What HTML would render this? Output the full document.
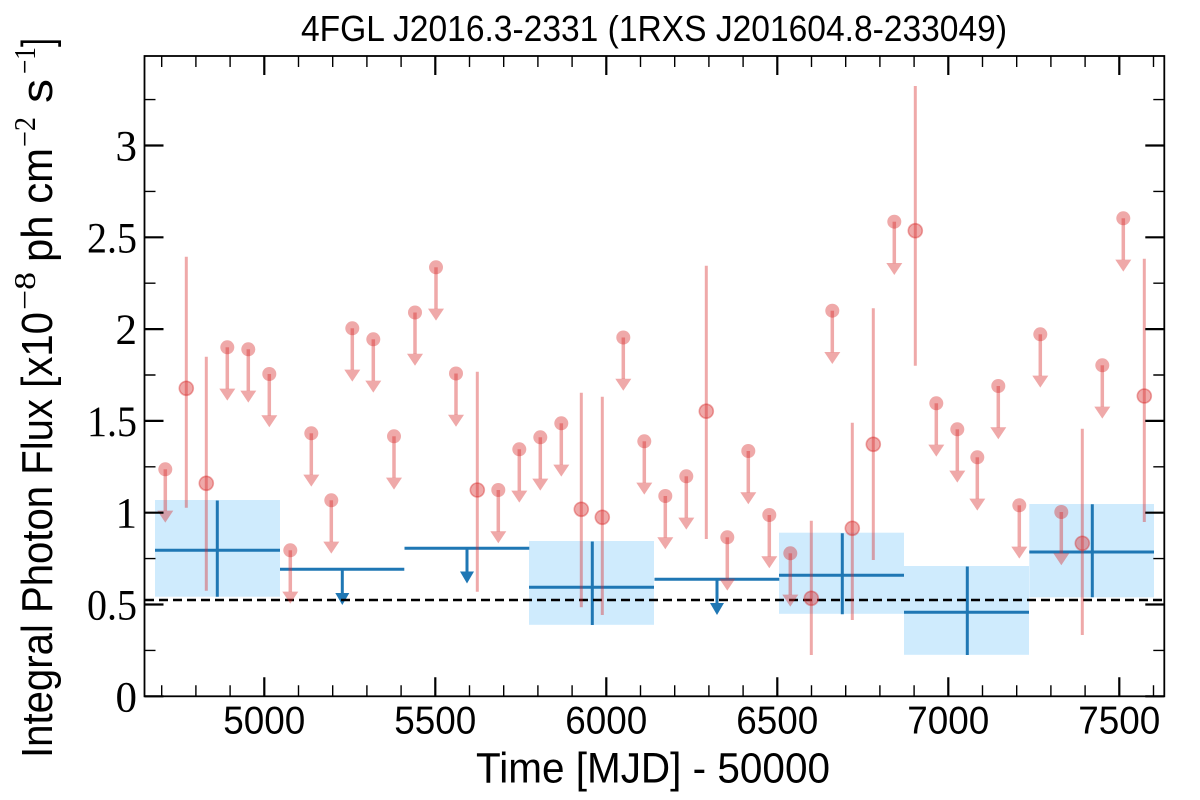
<!DOCTYPE html>
<html><head><meta charset="utf-8"><style>
html,body{margin:0;padding:0;background:#fff;}
svg{display:block;}
</style></head><body>
<svg xmlns="http://www.w3.org/2000/svg" width="1200" height="800" viewBox="0 0 1200 800">
<defs>
<g id="ul">
<circle r="7" fill="#d62728" fill-opacity="0.4"/>
<line x1="0" y1="0" x2="0" y2="41.5" stroke="#d62728" stroke-opacity="0.4" stroke-width="3.5"/>
<polygon points="-8,41.3 8,41.3 0,53.3" fill="#d62728" fill-opacity="0.4"/>
</g>
<g id="det">
<circle r="7" fill="#d62728" fill-opacity="0.4" stroke="#d62728" stroke-opacity="0.4" stroke-width="1.6"/>
</g>
</defs>
<rect width="1200" height="800" fill="#fff"/>

<!-- blue boxes -->
<g fill="rgb(207,235,253)">
<rect x="155" y="500" width="125" height="96.7"/>
<rect x="529" y="541" width="125" height="83.8"/>
<rect x="779" y="532.7" width="125" height="81.1"/>
<rect x="904" y="566" width="125" height="88.8"/>
<rect x="1029.3" y="504" width="124.7" height="93.3"/>
</g>

<!-- blue lines -->
<g stroke="#1f77b4" stroke-width="3" fill="none">
<line x1="155" y1="550.3" x2="280" y2="550.3"/>
<line x1="217.3" y1="500.5" x2="217.3" y2="596.7"/>
<line x1="280" y1="569.3" x2="404.3" y2="569.3"/>
<line x1="342.3" y1="569.3" x2="342.3" y2="594"/>
<line x1="404.5" y1="548.3" x2="529.3" y2="548.3"/>
<line x1="467" y1="548.3" x2="467" y2="572.5"/>
<line x1="529" y1="587.3" x2="654" y2="587.3"/>
<line x1="592.3" y1="541.5" x2="592.3" y2="625"/>
<line x1="654.5" y1="579.2" x2="779.3" y2="579.2"/>
<line x1="717" y1="579.2" x2="717" y2="604"/>
<line x1="779" y1="575.3" x2="904" y2="575.3"/>
<line x1="842.3" y1="533.3" x2="842.3" y2="614.3"/>
<line x1="904" y1="612.3" x2="1029" y2="612.3"/>
<line x1="967.3" y1="566.5" x2="967.3" y2="655"/>
<line x1="1029.3" y1="552" x2="1154" y2="552"/>
<line x1="1092.3" y1="504.3" x2="1092.3" y2="597.3"/>
</g>
<g fill="#1f77b4">
<polygon points="335.3,593 349.3,593 342.3,605"/>
<polygon points="460,571.5 474,571.5 467,583.5"/>
<polygon points="710,603 724,603 717,615"/>
</g>

<!-- dashed line -->
<line x1="145" y1="600" x2="1164" y2="600" stroke="#000" stroke-width="2.5" stroke-dasharray="9,5"/>

<!-- red detections error bars -->
<g stroke="#d62728" stroke-opacity="0.4" stroke-width="3">
<line x1="186.3" y1="256.7" x2="186.3" y2="507.7"/>
<line x1="206.3" y1="356.7" x2="206.3" y2="590.7"/>
<line x1="477.3" y1="371.7" x2="477.3" y2="591.7"/>
<line x1="581.3" y1="392.7" x2="581.3" y2="607.3"/>
<line x1="602.3" y1="396.7" x2="602.3" y2="615"/>
<line x1="706.3" y1="265.7" x2="706.3" y2="539"/>
<line x1="811.3" y1="520.7" x2="811.3" y2="655"/>
<line x1="852.3" y1="422.7" x2="852.3" y2="620"/>
<line x1="873.3" y1="308.3" x2="873.3" y2="560"/>
<line x1="915.3" y1="86" x2="915.3" y2="365.7"/>
<line x1="1082.3" y1="428.7" x2="1082.3" y2="635"/>
<line x1="1144.3" y1="258.7" x2="1144.3" y2="522"/>
</g>
<use href="#det" x="186.3" y="388.3"/>
<use href="#det" x="206.3" y="483.3"/>
<use href="#det" x="477.3" y="490"/>
<use href="#det" x="581.3" y="509.3"/>
<use href="#det" x="602.3" y="517.3"/>
<use href="#det" x="706.3" y="411.2"/>
<use href="#det" x="811.3" y="598.3"/>
<use href="#det" x="852.3" y="528.3"/>
<use href="#det" x="873.3" y="444.3"/>
<use href="#det" x="915.3" y="230.7"/>
<use href="#det" x="1082.3" y="543.3"/>
<use href="#det" x="1144.3" y="396"/>

<!-- red upper limits -->
<use href="#ul" x="165.3" y="469.3"/>
<use href="#ul" x="227.3" y="347.3"/>
<use href="#ul" x="248.3" y="349.3"/>
<use href="#ul" x="269.3" y="374"/>
<use href="#ul" x="290.3" y="550.3"/>
<use href="#ul" x="311.3" y="433.3"/>
<use href="#ul" x="331.3" y="500.3"/>
<use href="#ul" x="352.3" y="328.3"/>
<use href="#ul" x="373.3" y="339.3"/>
<use href="#ul" x="394" y="436.3"/>
<use href="#ul" x="415" y="312.5"/>
<use href="#ul" x="436" y="267.3"/>
<use href="#ul" x="456" y="373.5"/>
<use href="#ul" x="498.3" y="490"/>
<use href="#ul" x="519.3" y="449.3"/>
<use href="#ul" x="540.3" y="437.3"/>
<use href="#ul" x="561.3" y="423.3"/>
<use href="#ul" x="623.3" y="337.5"/>
<use href="#ul" x="644.3" y="441.3"/>
<use href="#ul" x="665.3" y="496"/>
<use href="#ul" x="686.3" y="476.3"/>
<use href="#ul" x="727.3" y="537.3"/>
<use href="#ul" x="748.3" y="451"/>
<use href="#ul" x="769.3" y="515"/>
<use href="#ul" x="790.3" y="553.3"/>
<use href="#ul" x="832.3" y="310.7"/>
<use href="#ul" x="894.3" y="221.7"/>
<use href="#ul" x="936.3" y="403.3"/>
<use href="#ul" x="957.3" y="429.3"/>
<use href="#ul" x="977.3" y="457.3"/>
<use href="#ul" x="998.3" y="386"/>
<use href="#ul" x="1019.3" y="505.3"/>
<use href="#ul" x="1040.3" y="334.3"/>
<use href="#ul" x="1061.3" y="512"/>
<use href="#ul" x="1102.3" y="365.3"/>
<use href="#ul" x="1123.3" y="218.3"/>

<!-- frame -->
<rect x="144.5" y="56" width="1019.8" height="640.3" fill="none" stroke="#000" stroke-width="1.8"/>

<!-- x major ticks -->
<g stroke="#000" stroke-width="2.2">
<path d="M264.3 696.3v-19M435.3 696.3v-19M606.3 696.3v-19M777.3 696.3v-19M948.3 696.3v-19M1119.3 696.3v-19"/>
<path d="M264.3 56v19M435.3 56v19M606.3 56v19M777.3 56v19M948.3 56v19M1119.3 56v19"/>
<path d="M144.5 696.3h19M144.5 604.5h19M144.5 512.7h19M144.5 420.9h19M144.5 329.1h19M144.5 237.3h19M144.5 145.5h19"/>
<path d="M1164.3 696.3h-19M1164.3 604.5h-19M1164.3 512.7h-19M1164.3 420.9h-19M1164.3 329.1h-19M1164.3 237.3h-19M1164.3 145.5h-19"/>
</g>
<g stroke="#000" stroke-width="1.4">
<path d="M161.7 696.3v-11M195.9 696.3v-11M230.1 696.3v-11M298.5 696.3v-11M332.7 696.3v-11M366.9 696.3v-11M401.1 696.3v-11M469.5 696.3v-11M503.7 696.3v-11M537.9 696.3v-11M572.1 696.3v-11M640.5 696.3v-11M674.7 696.3v-11M708.9 696.3v-11M743.1 696.3v-11M811.5 696.3v-11M845.7 696.3v-11M879.9 696.3v-11M914.1 696.3v-11M982.5 696.3v-11M1016.7 696.3v-11M1050.9 696.3v-11M1085.1 696.3v-11M1153.5 696.3v-11"/>
<path d="M161.7 56v11M195.9 56v11M230.1 56v11M298.5 56v11M332.7 56v11M366.9 56v11M401.1 56v11M469.5 56v11M503.7 56v11M537.9 56v11M572.1 56v11M640.5 56v11M674.7 56v11M708.9 56v11M743.1 56v11M811.5 56v11M845.7 56v11M879.9 56v11M914.1 56v11M982.5 56v11M1016.7 56v11M1050.9 56v11M1085.1 56v11M1153.5 56v11"/>
<path d="M144.5 650.4h11M144.5 558.6h11M144.5 466.8h11M144.5 375h11M144.5 283.2h11M144.5 191.4h11M144.5 99.6h11"/>
<path d="M1164.3 650.4h-11M1164.3 558.6h-11M1164.3 466.8h-11M1164.3 375h-11M1164.3 283.2h-11M1164.3 191.4h-11M1164.3 99.6h-11"/>
</g>

<!-- x tick labels -->
<g font-family="Liberation Sans, sans-serif" font-size="39" fill="#000" text-anchor="middle">
<text x="264.3" y="733.3" textLength="82" lengthAdjust="spacingAndGlyphs">5000</text>
<text x="435.3" y="733.3" textLength="82" lengthAdjust="spacingAndGlyphs">5500</text>
<text x="606.3" y="733.3" textLength="82" lengthAdjust="spacingAndGlyphs">6000</text>
<text x="777.3" y="733.3" textLength="82" lengthAdjust="spacingAndGlyphs">6500</text>
<text x="948.3" y="733.3" textLength="82" lengthAdjust="spacingAndGlyphs">7000</text>
<text x="1119.3" y="733.3" textLength="82" lengthAdjust="spacingAndGlyphs">7500</text>
</g>

<!-- y tick labels -->
<g font-family="Liberation Serif, serif" font-size="43" fill="#000" text-anchor="end">
<text x="137" y="711.3">0</text>
<text x="137" y="619.5" textLength="50" lengthAdjust="spacingAndGlyphs">0.5</text>
<text x="137" y="527.7">1</text>
<text x="137" y="435.9" textLength="50" lengthAdjust="spacingAndGlyphs">1.5</text>
<text x="137" y="344.1">2</text>
<text x="137" y="252.3" textLength="50" lengthAdjust="spacingAndGlyphs">2.5</text>
<text x="137" y="160.5">3</text>
</g>

<!-- title -->
<text x="654" y="41" font-family="Liberation Sans, sans-serif" font-size="36" text-anchor="middle" textLength="706" lengthAdjust="spacingAndGlyphs">4FGL J2016.3-2331 (1RXS J201604.8-233049)</text>

<!-- x label -->
<text x="653" y="782.7" font-family="Liberation Sans, sans-serif" font-size="43" text-anchor="middle" textLength="354" lengthAdjust="spacingAndGlyphs">Time [MJD] - 50000</text>

<!-- y label -->
<g transform="translate(52,0) rotate(-90)" font-family="Liberation Sans, sans-serif" font-size="44" fill="#000">
<text x="-758" y="0" textLength="446" lengthAdjust="spacingAndGlyphs">Integral Photon Flux [x10</text>
<text x="-310" y="-17" font-family="Liberation Serif, serif" font-size="31" textLength="38" lengthAdjust="spacingAndGlyphs">−8</text>
<text x="-262" y="0" textLength="114" lengthAdjust="spacingAndGlyphs">ph cm</text>
<text x="-147" y="-17" font-family="Liberation Serif, serif" font-size="31" textLength="30" lengthAdjust="spacingAndGlyphs">−2</text>
<text x="-103" y="0" textLength="24" lengthAdjust="spacingAndGlyphs">s</text>
<text x="-74" y="-17" font-family="Liberation Serif, serif" font-size="31" textLength="27" lengthAdjust="spacingAndGlyphs">−1</text>
<text x="-47" y="0" textLength="9" lengthAdjust="spacingAndGlyphs">]</text>
</g>
</svg>
</body></html>
